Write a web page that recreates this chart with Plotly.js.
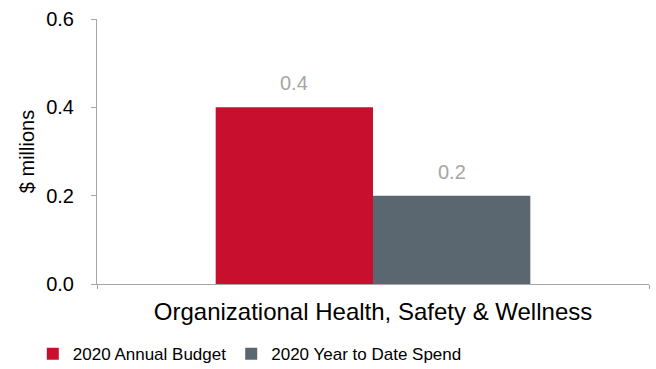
<!DOCTYPE html>
<html><head><meta charset="utf-8">
<script src="https://cdn.plot.ly/plotly-3.0.1.min.js"></script>
<style>html,body{margin:0;padding:0;background:#fff}#chart{width:656px;height:369px}</style>
</head><body><div id="chart"></div>
<script>
const categories = ["Organizational Health, Safety & Wellness"];
const seriesNames = ["2020 Annual Budget", "2020 Year to Date Spend"];
const budget = [0.4];
const spend = [0.2];
const colors = ["#c8102e", "#5b6770"];
const yTicks = [0, 0.2, 0.4, 0.6];
const yTickLabels = ["0.0", "0.2", "0.4", "0.6"];

const font = "Liberation Sans, Arial, sans-serif";
function mk(name, vals, color) {
  return {
    type: "bar", name: name, x: categories, y: vals,
    marker: {color: color, line: {width: 0}},
    hoverinfo: "none"
  };
}
const data = [mk(seriesNames[0], budget, colors[0]), mk(seriesNames[1], spend, colors[1])];
const barHalf = 79;
const series = [budget, spend];
const annotations = [];
series.forEach((vals, si) => {
  vals.forEach((v, ci) => {
    annotations.push({
      x: categories[ci], y: v, xref: "x", yref: "y",
      xshift: (si === 0 ? -1 : 1) * barHalf, yshift: 24,
      text: v.toFixed(1), showarrow: false,
      font: {color: "#a6a6a6", size: 20, family: font},
      xanchor: "center", yanchor: "middle"
    });
  });
});
const layout = {
  width: 656, height: 369,
  margin: {l: 97, r: 7, t: 19, b: 85},
  paper_bgcolor: "#fff", plot_bgcolor: "#fff",
  font: {family: font, color: "#000", size: 17},
  barmode: "group", bargap: 0.43, bargroupgap: 0,
  showlegend: true,
  annotations: annotations,
  legend: {orientation: "h", xref: "container", yref: "container", x: 0.05, y: 0.04, xanchor: "left", yanchor: "middle",
           font: {size: 17, family: font, color: "#000"}, itemwidth: 30},
  xaxis: {showline: true, linecolor: "#a6a6a6", linewidth: 1, ticks: "outside", tickson: "boundaries", ticklen: 4,
          tickcolor: "#a6a6a6", showgrid: false, zeroline: false, ticklabelstandoff: 6,
          tickfont: {size: 24, family: font, color: "#000"}},
  yaxis: {range: [0, 0.6], tickvals: yTicks, ticktext: yTickLabels, showline: true, linecolor: "#a6a6a6", linewidth: 1,
          ticks: "outside", ticklen: 5, tickcolor: "#a6a6a6", showgrid: false, zeroline: false,
          ticklabelstandoff: 13,
          tickfont: {size: 20, family: font, color: "#000"},
          title: {text: "$ millions", font: {size: 20, family: font, color: "#000"}, standoff: 6}}
};
Plotly.newPlot("chart", data, layout, {displayModeBar: false, staticPlot: true});
</script></body></html>
